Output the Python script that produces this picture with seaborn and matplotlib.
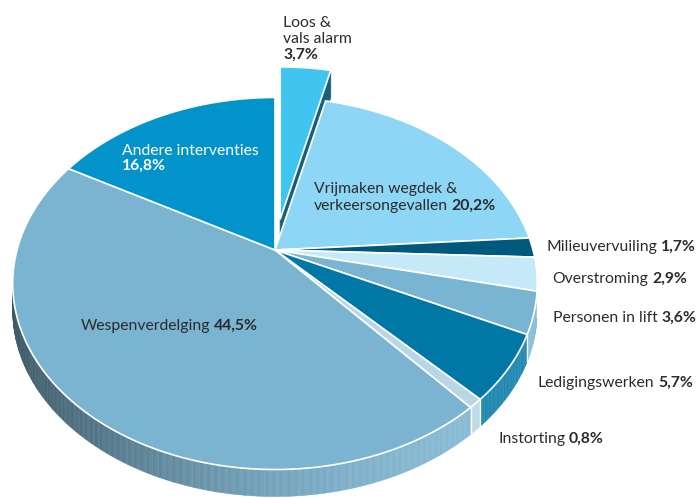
import numpy as np
import matplotlib.pyplot as plt
import matplotlib.colors as mcolors
from matplotlib.patches import Polygon
from matplotlib.collections import PolyCollection
import seaborn as sns

# data, clockwise from 12 o'clock
labels = ["Loos &\nvals alarm", "Vrijmaken wegdek &\nverkeersongevallen", "Milieuvervuiling",
          "Overstroming", "Personen in lift", "Ledigingswerken", "Instorting",
          "Wespenverdelging", "Andere interventies"]
values = [3.7, 20.2, 1.7, 2.9, 3.6, 5.7, 0.8, 44.5, 16.8]
pct_text = ["3,7%", "20,2%", "1,7%", "2,9%", "3,6%", "5,7%", "0,8%", "44,5%", "16,8%"]
colors = ["#40c4f0", "#8ed6f6", "#00587d", "#c6e9f9", "#79b5d2", "#0077a4", "#b8d6e6",
          "#7ab4d1", "#0393cb"]
exploded = 0

sns.set_theme(style="white")
plt.rcParams['font.family'] = ['Lato', 'DejaVu Sans']

fig = plt.figure(figsize=(6.97, 4.98), dpi=100)
ax = fig.add_axes([0, 0, 1, 1])
ax.set_xlim(0, 697)
ax.set_ylim(498, 0)
ax.axis('off')

# tilted disc with a bit of perspective
CX, CY = 275, 250
RX, RY, K = 258, 180, 0.18
DEPTH = 27
EXPLODE = 31


def project(theta):
    u = np.sin(theta)
    v = np.cos(theta)
    s = 1 + K * v
    return CX + RX * u / s, CY - RY * v / s


total = sum(values)
edges = np.concatenate([[0], np.cumsum(values)]) / total * 2 * np.pi

grid = np.linspace(0, 2 * np.pi, 3601)
gx, gy = project(grid)
t_right, t_left = grid[np.argmax(gx)], grid[np.argmin(gx)]
xmin, xmax = gx.min(), gx.max()


def side_color(c, t, stripe):
    rgb = np.array(mcolors.to_rgb(c))
    f = 1 - 0.52 * (1 - t) ** 2
    w = 0.12 * t + (0.05 if stripe else 0)
    return tuple(np.clip(rgb * f * (1 - w) + w, 0, 1))


def top_poly(a, b, off=(0, 0)):
    n = max(int(np.degrees(b - a) * 2), 3)
    ts = np.linspace(a, b, n)
    x, y = project(ts)
    pts = [(CX, CY)] + list(zip(x, y))
    return [(px + off[0], py + off[1]) for px, py in pts]


# exploded slice first (it sits behind the rest)
a, b = edges[exploded], edges[exploded + 1]
mx, my = project((a + b) / 2)
d = np.array([mx - CX, my - CY])
off = d / np.linalg.norm(d) * EXPLODE
ex, ey = project(b)
face = [(CX + off[0], CY + off[1]), (ex + off[0], ey + off[1]),
        (ex + off[0], ey + off[1] + DEPTH), (CX + off[0], CY + off[1] + DEPTH)]
ax.add_patch(Polygon(face, closed=True, facecolor="#175f7b", edgecolor="#175f7b", lw=0.5))
ax.add_patch(Polygon(top_poly(a, b, off), closed=True, facecolor=colors[exploded],
                     edgecolor="white", lw=1.2))

# side walls of the front half
quads, qcols = [], []
for i in range(len(values)):
    if i == exploded:
        continue
    lo, hi = max(edges[i], t_right), min(edges[i + 1], t_left)
    if hi <= lo:
        continue
    n = max(int(np.degrees(hi - lo) * 1.5), 2)
    ts = np.linspace(lo, hi, n + 1)
    x, y = project(ts)
    for j in range(n):
        quads.append([(x[j], y[j]), (x[j + 1], y[j + 1]),
                      (x[j + 1], y[j + 1] + DEPTH), (x[j], y[j] + DEPTH)])
        t = ((x[j] + x[j + 1]) / 2 - xmin) / (xmax - xmin)
        qcols.append(side_color(colors[i], t, j % 2 == 0))
ax.add_collection(PolyCollection(quads, facecolors=qcols, edgecolors=qcols, linewidths=0.4))

for e in edges[1:-1]:
    if t_right < e < t_left:
        x, y = project(e)
        ax.plot([x, x], [y, y + DEPTH], color="white", lw=1.0)

# top faces
for i in range(len(values)):
    if i == exploded:
        continue
    ax.add_patch(Polygon(top_poly(edges[i], edges[i + 1]), closed=True,
                         facecolor=colors[i], edgecolor="white", lw=1.2))

TXT = "#2b2b2b"
FS = 11.3
GAP = 2.6


def label(x, y, reg, bold, ha='left', color=TXT):
    if ha == 'left':
        t = ax.text(x, y, reg, ha='left', va='baseline', fontsize=FS, color=color)
        ax.annotate(bold, xy=(1, 0), xycoords=t, xytext=(GAP, 0), textcoords='offset points',
                    ha='left', va='bottom', fontsize=FS, color=color, fontweight='bold')
    else:
        t = ax.text(x, y, bold, ha='right', va='baseline', fontsize=FS, color=color,
                    fontweight='bold')
        ax.annotate(reg, xy=(0, 0), xycoords=t, xytext=(-GAP, 0), textcoords='offset points',
                    ha='right', va='bottom', fontsize=FS, color=color)


# Loos & vals alarm
l0 = labels[0].split("\n")
ax.text(283, 27, l0[0], fontsize=FS, color=TXT, va='baseline')
ax.text(283, 43, l0[1], fontsize=FS, color=TXT, va='baseline')
ax.text(283, 59, pct_text[0], fontsize=FS, color=TXT, va='baseline', fontweight='bold')

# Vrijmaken
l1 = labels[1].split("\n")
ax.text(314, 193, l1[0], fontsize=FS, color=TXT, va='baseline')
label(314, 210, l1[1], pct_text[1])

# Andere interventies (white, inside)
ax.text(122, 155, labels[8], fontsize=FS, color="white", va='baseline')
ax.text(122, 170, pct_text[8], fontsize=FS, color="white", va='baseline', fontweight='bold')

# Wespenverdelging
label(81, 330, labels[7], pct_text[7])

# right-hand labels
label(696, 251, labels[2], pct_text[2], ha='right')
label(687, 283, labels[3], pct_text[3], ha='right')
label(696, 322, labels[4], pct_text[4], ha='right')
label(693, 387, labels[5], pct_text[5], ha='right')
label(498, 443, labels[6], pct_text[6])

fig.savefig("out.png", dpi=100)
